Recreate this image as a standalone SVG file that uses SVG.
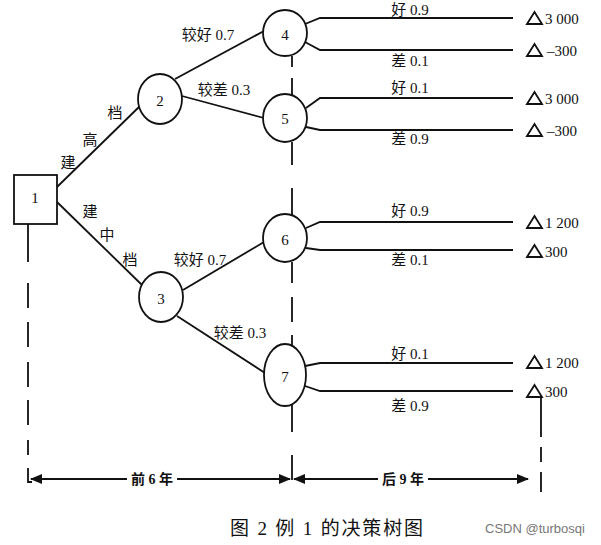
<svg xmlns="http://www.w3.org/2000/svg" width="601" height="545" viewBox="0 0 601 545">
<defs>
<marker id="ah" markerWidth="12" markerHeight="10" refX="11" refY="5" orient="auto-start-reverse" markerUnits="userSpaceOnUse">
<path d="M0,0 L12,5 L0,10 Z" fill="#111"/>
</marker>
<style>
.ln{stroke:#111;stroke-width:1.8;fill:none}
.nd{stroke:#111;stroke-width:1.8;fill:#fff}
.t{font-family:"Liberation Serif","Noto Sans CJK SC",serif;fill:#111;font-size:15px}
.c{text-anchor:middle;dominant-baseline:central}
.tri{stroke:#111;stroke-width:1.8;fill:none;stroke-linejoin:miter}
.b{font-weight:bold;font-size:14px}
</style>
</defs>
<rect width="601" height="545" fill="#fff"/>

<g id="connectors">
<line class="ln" x1="57" y1="187" x2="140" y2="106"/>
<line class="ln" x1="57" y1="202" x2="142" y2="285"/>
<line class="ln" x1="175" y1="79" x2="264" y2="31"/>
<line class="ln" x1="182" y1="96" x2="264" y2="118"/>
<line class="ln" x1="183" y1="290" x2="264" y2="242"/>
<line class="ln" x1="177" y1="316" x2="265" y2="373"/>
<polyline class="ln" points="305,24 320,18 513,18"/>
<polyline class="ln" points="305,42 320,50 513,50"/>
<polyline class="ln" points="306,108 320,98 513,98"/>
<polyline class="ln" points="306,127 320,130 513,130"/>
<polyline class="ln" points="306,228 320,222 513,222"/>
<polyline class="ln" points="306,248 320,250 513,250"/>
<polyline class="ln" points="305,366 320,363 513,363"/>
<polyline class="ln" points="305,386 320,391 513,391"/>
<path class="ln" d="M292,56 V67 M292,78 V95 M292,142 V165 M292,188 V215 M292,262 V283 M292,297 V322 M292,335 V346 M292,405 V432 M292,455 V480"/>
<path class="ln" d="M28,224 V262 M28,283 V308 M28,322 V347 M28,362 V387 M28,400 V425 M28,440 V455 M28,468 V482 H32"/>
<path class="ln" d="M541,397 V437 M541,447 V462 M541,472 V492"/>
<line class="ln" x1="31" y1="479" x2="290" y2="479" marker-start="url(#ah)" marker-end="url(#ah)"/>
<line class="ln" x1="294" y1="479" x2="528" y2="479" marker-start="url(#ah)" marker-end="url(#ah)"/>
</g>

<g id="n1"><rect class="nd" x="14" y="175" width="43" height="49"/><text class="t c" x="35" y="198">1</text></g>
<g id="n2"><ellipse class="nd" cx="160" cy="99" rx="22" ry="25"/><text class="t c" x="160" y="101">2</text></g>
<g id="n3"><ellipse class="nd" cx="161" cy="297" rx="22" ry="25"/><text class="t c" x="161" y="299">3</text></g>
<g id="n4"><ellipse class="nd" cx="285" cy="33" rx="22" ry="23"/><text class="t c" x="285" y="35">4</text></g>
<g id="n5"><ellipse class="nd" cx="285" cy="118" rx="22" ry="24"/><text class="t c" x="285" y="119">5</text></g>
<g id="n6"><ellipse class="nd" cx="285" cy="238" rx="22" ry="24"/><text class="t c" x="285" y="240">6</text></g>
<g id="n7"><ellipse class="nd" cx="285" cy="375" rx="21" ry="31"/><text class="t c" x="285" y="377">7</text></g>

<g id="branch-labels">
<text class="t c" x="68" y="163">建</text>
<text class="t c" x="90" y="140">高</text>
<text class="t c" x="115" y="113">档</text>
<text class="t c" x="90" y="212">建</text>
<text class="t c" x="107" y="235">中</text>
<text class="t c" x="130" y="260">档</text>
<text class="t c" x="208" y="35">较好 0.7</text>
<text class="t c" x="224" y="90">较差 0.3</text>
<text class="t c" x="200" y="260">较好 0.7</text>
<text class="t c" x="240" y="333">较差 0.3</text>
<text class="t c" x="410" y="10">好 0.9</text>
<text class="t c" x="410" y="61">差 0.1</text>
<text class="t c" x="410" y="88">好 0.1</text>
<text class="t c" x="410" y="139">差 0.9</text>
<text class="t c" x="410" y="211">好 0.9</text>
<text class="t c" x="410" y="260">差 0.1</text>
<text class="t c" x="410" y="354">好 0.1</text>
<text class="t c" x="410" y="406">差 0.9</text>
</g>

<g id="payoffs">
<polygon class="tri" points="527,24 534.5,12 542,24"/><text class="t" x="545" y="24">3 000</text>
<polygon class="tri" points="527,56 534.5,44 542,56"/><text class="t" x="547" y="56">–300</text>
<polygon class="tri" points="527,104 534.5,92 542,104"/><text class="t" x="545" y="104">3 000</text>
<polygon class="tri" points="527,136 534.5,124 542,136"/><text class="t" x="547" y="136">–300</text>
<polygon class="tri" points="527,228 534.5,216 542,228"/><text class="t" x="545" y="228">1 200</text>
<polygon class="tri" points="527,257 534.5,245 542,257"/><text class="t" x="545" y="257">300</text>
<polygon class="tri" points="527,368 534.5,356 542,368"/><text class="t" x="545" y="368">1 200</text>
<polygon class="tri" points="527,397 534.5,385 542,397"/><text class="t" x="545" y="397">300</text>
</g>

<g id="axis-labels">
<rect x="127" y="470" width="50" height="18" fill="#fff"/>
<text class="t c b" x="152" y="479">前 6 年</text>
<rect x="378" y="470" width="50" height="18" fill="#fff"/>
<text class="t c b" x="403" y="479">后 9 年</text>
</g>

<g id="caption">
<text class="t" x="230" y="535" textLength="193" lengthAdjust="spacing" style="font-size:19px">图 2 例 1 的决策树图</text>
<text x="485" y="533" font-family="Liberation Sans, Arial, sans-serif" font-size="13" fill="#777">CSDN @turbosqi</text>
</g>
</svg>
